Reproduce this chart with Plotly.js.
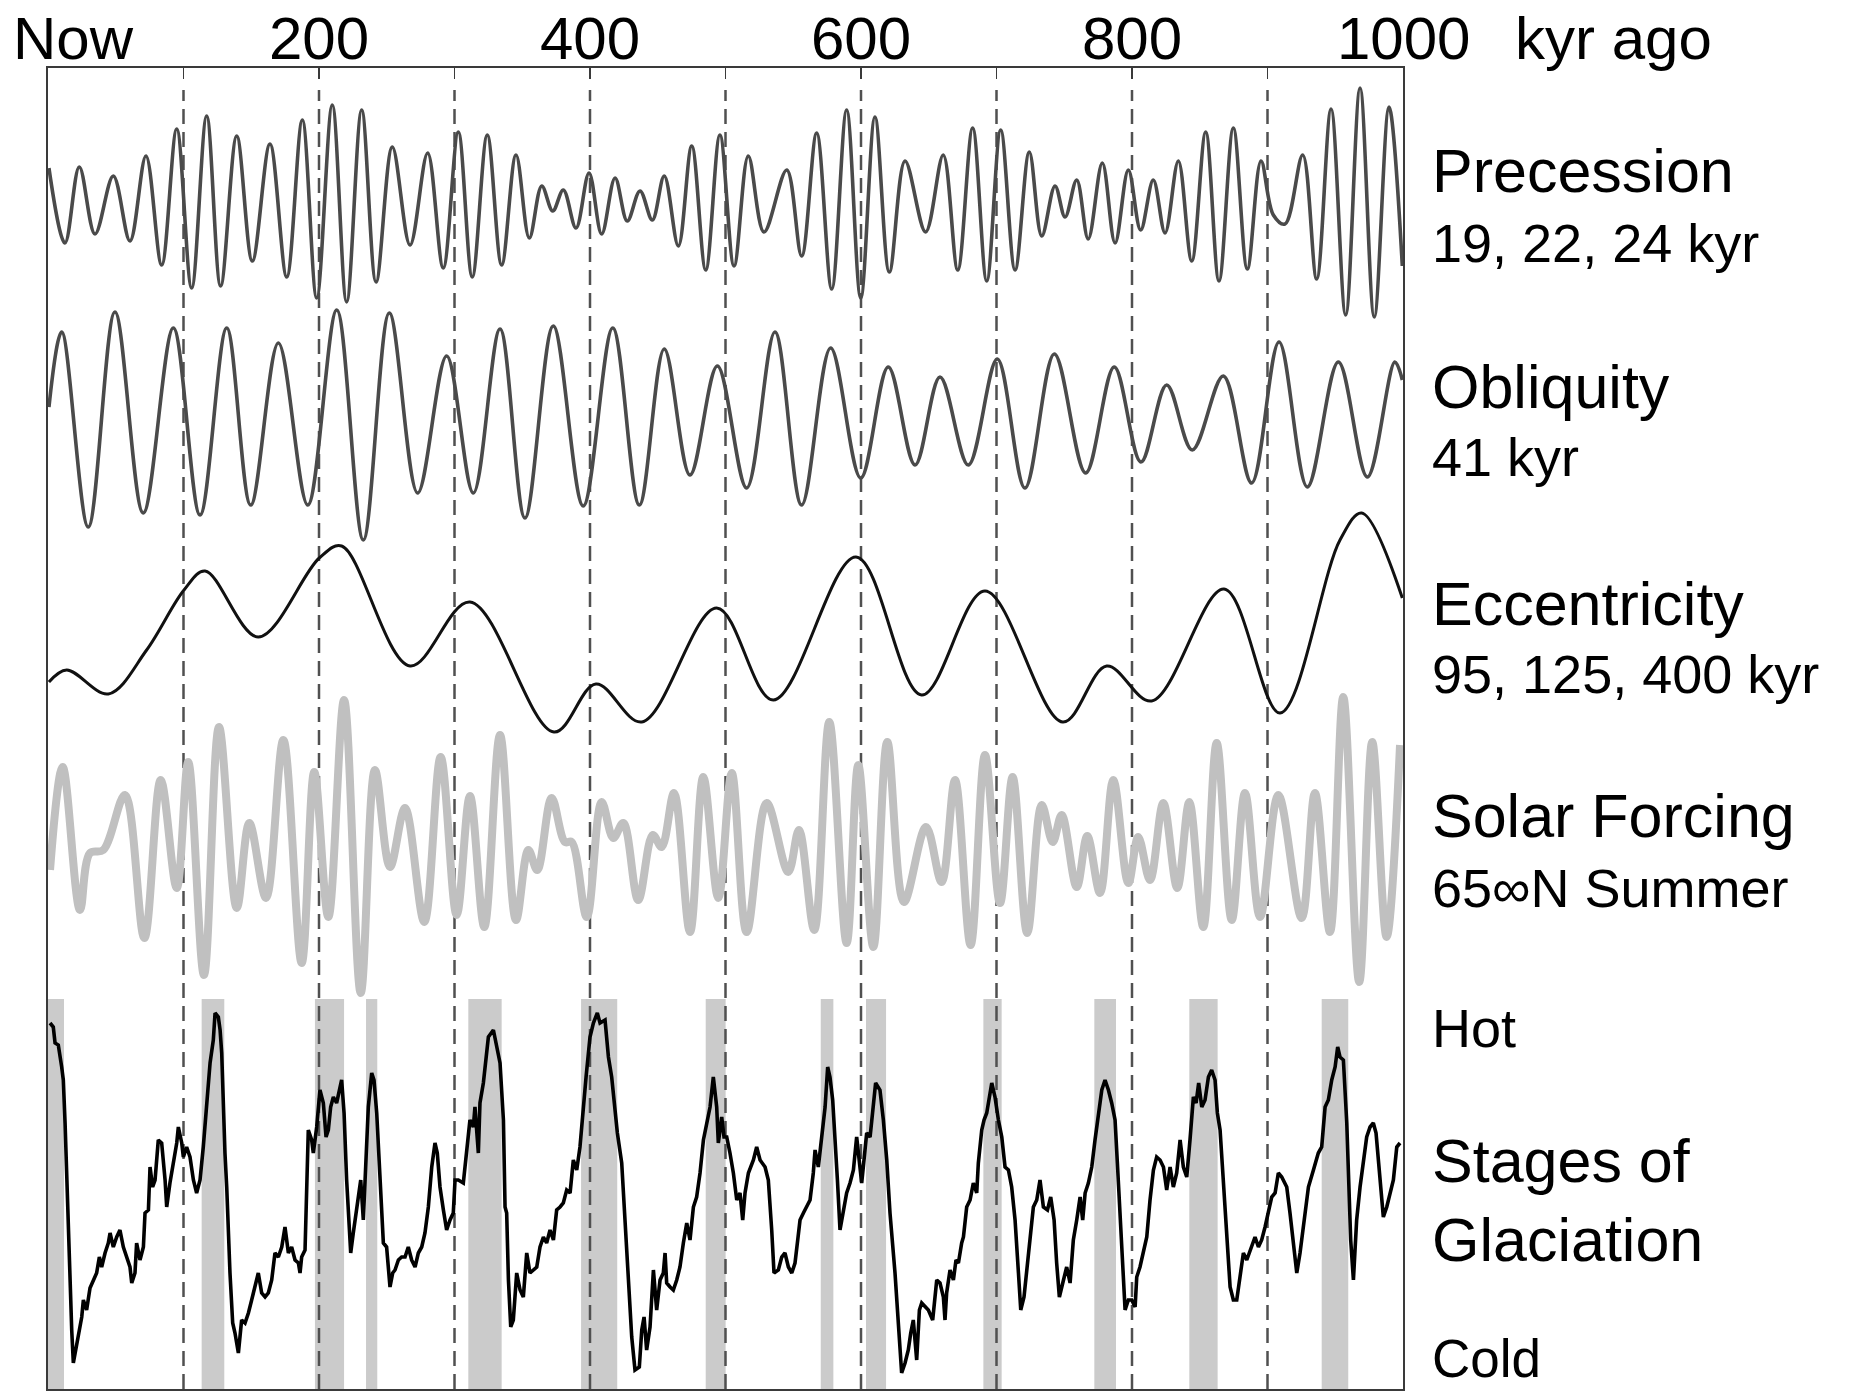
<!DOCTYPE html>
<html>
<head>
<meta charset="utf-8">
<script src="https://cdn.plot.ly/plotly-3.0.1.min.js"></script>
<style>html,body{margin:0;padding:0;background:#fff;}#chart{width:1849px;height:1391px;}</style>
</head>
<body>
<div id="chart"></div>
<script>
// ---------------- DATA (time in kyr ago, values in arbitrary units) ----------------
const precT = [0.7,12.5,23.1,34.7,48.2,60.5,72.3,83.9,95,106,117.1,127.4,139.3,150.8,163.8,176.2,187.7,198.3,209.8,220.4,231.5,242.1,254.1,267.2,280.2,291.7,302.8,313.1,324.2,334.8,345.4,355.2,364.4,372.5,380.3,389.7,399.3,408.6,418.5,427.5,436.9,446,454.8,465.2,475.1,485.4,495.9,506.3,516.8,528.4,545.2,556.2,567.3,578.4,589.4,599.8,610.3,620.9,632.5,647.7,660.7,671.4,682.4,692.8,703.1,713.7,724.2,733.4,743.2,750.6,759.2,767.7,778.1,787.5,797.3,806.4,815.7,824.4,834.2,844.1,854.4,864.2,874.8,885.1,895.2,904.3,912.9,926,936.3,946.9,957.7,968.3,978.8,989.7,999.5];
const precV = [35,-40,36,-31,27,-38,47,-62,74,-85,87,-83,67,-58,59,-74,83,-95,98,-99,93,-79,56,-42,50,-65,71,-74,68,-62,48,-35,17,-8,13,-25,30,-31,25,-18,12,-17,27,-43,57,-67,68,-63,47,-29,33,-53,70,-86,93,-95,86,-69,42,-29,48,-67,75,-78,73,-67,51,-33,17,-14,23,-36,40,-40,33,-27,23,-30,42,-58,71,-78,75,-66,42,-12,-21,48,-76,94,-112,115,-114,96,-63];

const oblT = [0.7,10.1,29.7,49.4,70.3,92.5,112.2,131.9,149.6,170,191.7,213.1,232.7,251.9,272.8,294.2,313.9,333.6,352,372.9,395,416.8,436.4,454.8,473.8,494,515.6,536.5,556.2,577.6,599.8,620.1,639.9,658.3,679.2,700.6,721,742.7,765.8,786.9,806.6,825.6,844.5,867.4,888.3,908.5,929.4,952.3,973.7,994,999.5];
const oblV = [13,88,-107,108,-93,92,-95,92,-85,77,-85,110,-120,107,-73,64,-73,91,-98,94,-86,92,-85,71,-55,54,-68,88,-85,72,-58,53,-45,43,-45,61,-68,66,-53,53,-42,35,-30,44,-63,78,-67,58,-57,58,40];

const eccT = [0.7,13.8,44.5,72.8,100.4,115.9,155.2,200.2,216.7,267.2,311.4,373.4,404.4,438.2,493.5,535.3,596.3,644.8,691.5,748.9,781.3,814.5,867.9,909.2,953.5,969.5,999.5];
const eccV = [-42,-30,-54,-10,50,69,3,82,94,-26,38,-92,-44,-82,32,-60,83,-55,49,-82,-26,-61,51,-73,100,127,42];

const solT = [1.5,10.8,23.6,31,40.8,56.8,71.1,83.2,95,103.5,115.1,126.2,139.3,148.6,160.9,173.7,187.2,196.5,206.9,218.5,230.8,241.3,252.4,263.5,277.7,289.8,301.6,311.4,322,333.6,345.4,354.5,361.1,371.7,381.5,386.5,397.6,408.6,417.2,424.6,435.6,446.3,452.9,462,473.8,483.6,494.7,504.6,515.6,530.4,546.3,554.2,565.5,576.6,589.4,598,609.1,619.4,631.7,648,659.5,669.4,680.9,691.5,702.6,711.9,722.7,733.4,741.5,748.1,759.2,767,776.4,786.2,797.3,804.6,813.3,823.1,833.4,842.3,852.6,862.5,873.6,883.4,894.5,908,925.2,935,946.1,955.9,967.7,977.3,987.9,997.8];
const solV = [-30,73,-70,-13,-10,45,-98,60,-48,78,-135,113,-68,17,-58,100,-123,68,-77,140,-153,70,-27,32,-82,83,-75,44,-87,105,-80,-10,-30,42,-2,-2,-77,38,2,17,-60,5,-7,47,-92,63,-58,67,-92,37,-32,10,-90,118,-103,75,-107,98,-62,13,-42,60,-105,85,-63,63,-93,35,-2,25,-47,4,-53,60,-43,3,-40,37,-48,38,-87,97,-80,47,-77,45,-78,47,-92,143,-142,98,-97,95];

const glacT = [1.5,3.9,5.2,7.6,10.1,11.3,12.6,13.8,15,16.2,17.5,18.7,20.7,22.4,24.9,26.1,28.5,31,33.5,35.9,37.9,39.6,42.1,44.5,45.8,48.2,50.7,53.1,55.6,58.1,60.5,61.8,64.2,65.4,67.9,70.4,71.6,74.1,75.3,77.2,79,81.4,83.9,86.4,87.6,90,92.5,95,96.2,98.7,99.9,102.3,104.8,107.3,109.7,112.2,114.6,117.1,119.6,122,123.3,125.7,127,128.2,129.4,130.6,131.9,133.1,134.3,136.3,138,140.5,142.9,145.4,147.9,150.3,152.8,155.2,157.7,160.2,162.6,165.1,167.5,170,172.5,174.9,177.4,179.8,182.3,184.8,186,187.2,189.7,192.1,194.6,195.8,198.3,200.7,203.2,205.2,206.9,208.6,210.6,213,216.7,218.5,220.4,221.7,223.4,225.3,227.3,229,230.8,232.7,234.7,236.4,238.9,240.6,242.6,245,247.5,249.9,252.4,254.4,256.1,258.6,261,263.5,265.9,268.4,270.9,273.3,275.8,278.2,280.7,283.2,285.6,287.3,289.3,291.8,294.2,296.7,299.1,300.4,302.8,306.5,309,311.4,313.9,315.1,317.6,318.8,321.3,325,328.7,331.1,333.6,
336.1,337.3,338.5,339.8,341.5,343.4,345.9,348.4,350.8,353.3,355.7,358.2,360.7,363.1,365.6,368,370.5,373,375.4,377.9,380.3,382.8,385.3,387.7,390.2,392.6,395.1,397.1,400,402.5,405.4,407.4,411.1,413.6,416,418.5,420.2,423.4,425.9,428.3,430.8,433.2,436.4,438.2,439.9,441.8,444.3,446.8,449.2,451.7,454.1,455.4,456.6,459.1,461.5,464,466.4,468.9,471.4,473.8,476.3,478.7,481.2,483.7,486.1,488.6,491,493.5,494.7,497.2,498.9,500.9,503.3,505.8,508.3,510.7,512.7,514.4,516.9,520.6,523,525.5,529.2,531.6,534.1,535.8,539,541.5,543.9,546.4,548.9,551.3,553.3,555,557.5,559.9,562.4,564.8,566.1,568.5,571,573.5,575.4,577.1,579.1,580.8,582.6,584.5,587,589.4,591.9,594.4,596.8,598.8,600.5,601.7,604.2,606.7,609.1,610.8,614,616.5,619,621.4,625.1,627.6,630,632.5,634.9,636.7,638.6,641.1,643.1,644.8,647.3,649.7,652.9,655.9,658.3,660.8,662,663.2,665.7,668.2,670.1,671.9,674.3,
675.6,678,680.5,682.9,685.4,686.6,689.1,690.8,692.8,696.5,698.9,701.4,703.9,706.3,708.8,711.2,713.7,716.2,717.9,720.3,722.3,724.8,727.2,729.7,732.1,734.6,737.6,740,742.5,744.4,746.4,748.9,751.8,754.3,756.7,759.2,761.7,763.6,765.4,767.8,770.3,772.7,775.2,777.7,780.1,782.6,785,787.5,789.2,791.2,793.1,794.9,797.3,799.8,802.3,803.5,805.9,808.4,810.9,813.3,815.8,818.2,820.7,823.2,825.6,828.1,830.5,833,835.5,837.9,840.4,842.8,845.3,847.3,849.2,851.5,853.9,856.4,858.8,861.3,863,865,867.4,869.9,872.4,874.8,877.3,879.7,882.2,884.7,887.1,890.8,893.3,895.7,898.2,900.7,903.1,905.6,908,910.5,914.2,916.6,919.1,921.6,924,926.5,930.2,933.9,937.5,940,942.5,944.9,947.4,949.9,951.8,953.5,956,958.5,959.7,961.4,963.4,965.8,968.3,970.8,973.2,975.7,978.1,980.1,982.6,985.5,988,990.4,992.9,995.4,997.8];
const glacV = [357,353,337,335,313,300,257,200,150,100,50,17,33,47,63,80,70,92,100,107,123,113,127,137,147,133,143,150,133,123,113,97,107,137,120,133,167,170,213,193,200,240,237,200,173,197,217,237,253,237,223,233,223,200,187,200,233,277,317,340,367,363,350,327,267,227,193,147,107,57,47,27,60,57,67,80,93,107,87,83,87,100,127,123,133,153,127,133,120,117,107,123,130,250,240,227,253,290,277,243,250,273,283,277,300,267,200,167,127,147,167,183,200,160,213,273,307,300,267,200,137,133,93,107,110,120,123,123,133,120,113,127,133,147,173,213,237,227,193,170,150,160,167,200,200,197,233,260,253,273,227,277,297,343,350,333,317,
260,173,167,100,53,60,107,90,83,127,107,110,113,133,143,137,150,140,170,173,177,190,187,220,210,233,267,303,343,357,367,357,360,323,303,267,247,217,157,100,43,10,13,50,63,30,53,110,70,100,107,127,97,93,90,100,113,137,157,140,173,183,207,240,257,273,303,273,237,263,243,243,227,207,180,187,160,187,207,220,233,220,213,200,150,107,110,123,127,113,107,117,140,160,167,173,180,207,230,213,240,273,313,303,280,233,200,150,167,187,197,210,243,213,197,213,247,243,273,297,290,260,220,167,107,50,7,17,30,47,60,20,70,77,73,70,60,100,97,83,60,87,110,100,120,117,137,
143,173,180,197,187,217,250,260,267,297,283,260,243,213,210,193,160,107,70,83,110,140,173,180,200,173,170,183,160,117,83,97,113,97,140,160,183,160,187,197,213,240,267,290,300,290,277,260,217,170,117,70,80,80,73,103,113,130,143,180,210,223,220,213,190,213,193,207,240,213,203,240,283,277,297,273,280,303,310,300,267,250,200,140,93,80,80,103,127,120,130,143,133,140,153,170,183,187,207,203,193,167,133,107,127,153,193,210,227,233,273,280,300,313,333,323,320,257,200,140,100,160,193,220,243,253,257,247,207,163,173,187,200,233,237];

// glacial-stage shading (start / end, kyr ago)
const bandStart = [0, 113.4, 197, 234.7, 310.2, 393.4, 485.4, 570.3, 603.7, 690.3, 772.2, 842.3, 940];
const bandEnd   = [11.8, 130.1, 218.5, 243, 334.8, 420.1, 500.1, 579.6, 618.5, 703.8, 788.2, 863.2, 959.6];

// reference lines
const dashT = [100, 200, 300, 400, 500, 600, 700, 800, 900];

// axis ticks and labels
const tickVals = [0, 100, 200, 300, 400, 500, 600, 700, 800, 900, 1000];
const labelVals = [200, 400, 600, 800, 1000];
const labelText = ['200', '400', '600', '800', '1000'];

// right-hand labels
const labelMain = ['Precession', 'Obliquity', 'Eccentricity', 'Solar Forcing', 'Stages of', 'Glaciation'];
const labelSub  = ['19, 22, 24 kyr', '41 kyr', '95, 125, 400 kyr', '65∞N Summer'];
const labelHotCold = ['Hot', 'Cold'];

// ---------------- LAYOUT GEOMETRY ----------------
const W = 1849, H = 1391;
const PL = 48, PR = 1403, PT = 68, PB = 1389;
const PW = PR - PL, PH = PB - PT;
const px2x = p => (p - PL) / PW;
const px2y = p => (PB - p) / PH;
function rangeFor(base) { return [base - PB, base - PT]; }

const FONT = 'Liberation Sans, Arial, Helvetica, sans-serif';
const FRAME = '#3a3a3a';

const traces = [
  {x: precT, y: precV, yaxis: 'y', mode: 'lines', line: {color: '#4a4a4a', width: 3.6, shape: 'spline', smoothing: 1}, hoverinfo: 'skip'},
  {x: oblT,  y: oblV,  yaxis: 'y2', mode: 'lines', line: {color: '#4a4a4a', width: 3.6, shape: 'spline', smoothing: 1}, hoverinfo: 'skip'},
  {x: eccT,  y: eccV,  yaxis: 'y3', mode: 'lines', line: {color: '#111111', width: 3, shape: 'spline', smoothing: 1}, hoverinfo: 'skip'},
  {x: solT,  y: solV,  yaxis: 'y4', mode: 'lines', line: {color: '#c0c0c0', width: 8, shape: 'spline', smoothing: 1}, hoverinfo: 'skip'},
  {x: glacT, y: glacV, yaxis: 'y5', mode: 'lines', line: {color: '#000000', width: 3.6}, hoverinfo: 'skip'}
];

const shapes = [];
for (let i = 0; i < bandStart.length; i++) {
  shapes.push({type: 'rect', xref: 'x', yref: 'paper', x0: bandStart[i], x1: bandEnd[i],
               y0: 0, y1: px2y(999), fillcolor: '#cbcbcb', line: {width: 0}, layer: 'below'});
}
dashT.forEach(t => shapes.push({type: 'line', xref: 'x', yref: 'paper', x0: t, x1: t,
  y0: 0, y1: px2y(90), line: {color: '#505050', width: 2.5, dash: '15px,8px'}, layer: 'below'}));

const annotations = [];
function addText(text, xpx, ypx, size, anchor, yanchor) {
  annotations.push({text: text, xref: 'paper', yref: 'paper', x: px2x(xpx), y: px2y(ypx),
    xanchor: anchor || 'left', yanchor: yanchor || 'middle', showarrow: false,
    font: {family: FONT, size: size, color: '#000'}});
}
// top axis labels, positioned on the x scale
labelVals.forEach((v, i) => annotations.push({text: labelText[i], xref: 'x', yref: 'paper', x: v, y: px2y(38),
  xanchor: 'center', yanchor: 'middle', showarrow: false, font: {family: FONT, size: 60, color: '#000'}}));
addText('Now', 73, 38, 60, 'center');
addText('kyr ago', 1614, 38, 60, 'center');
const mainY = [171, 387, 604, 816, 1161, 1240];
labelMain.forEach((t, i) => addText(t, 1430, mainY[i], 61));
const subY = [243, 457, 674, 888];
labelSub.forEach((t, i) => addText(t, 1430, subY[i], 54));
addText(labelHotCold[0], 1430, 1028, 54);
addText(labelHotCold[1], 1430, 1390, 53, 'left', 'bottom');

const hiddenY = base => ({range: rangeFor(base), visible: false, fixedrange: true});

const layout = {
  width: W, height: H,
  margin: {l: PL, r: W - PR, t: PT, b: H - PB},
  paper_bgcolor: '#ffffff', plot_bgcolor: '#ffffff',
  showlegend: false,
  font: {family: FONT, color: '#000'},
  xaxis: {range: [0, 1000], side: 'top', showgrid: false, zeroline: false,
          showline: true, mirror: true, linecolor: FRAME, linewidth: 2,
          ticks: 'inside', ticklen: 11, tickwidth: 1.5, tickcolor: FRAME,
          tickmode: 'array', tickvals: tickVals, showticklabels: false},
  yaxis: Object.assign(hiddenY(203), {visible: true, showline: true, mirror: true, linecolor: FRAME, linewidth: 2,
          showticklabels: false, ticks: '', showgrid: false, zeroline: false}),
  yaxis2: Object.assign(hiddenY(420), {overlaying: 'y'}),
  yaxis3: Object.assign(hiddenY(640), {overlaying: 'y'}),
  yaxis4: Object.assign(hiddenY(840), {overlaying: 'y'}),
  yaxis5: Object.assign(hiddenY(1380), {overlaying: 'y'}),
  shapes: shapes,
  annotations: annotations
};

Plotly.newPlot('chart', traces, layout, {staticPlot: true, displayModeBar: false});
</script>
</body>
</html>
